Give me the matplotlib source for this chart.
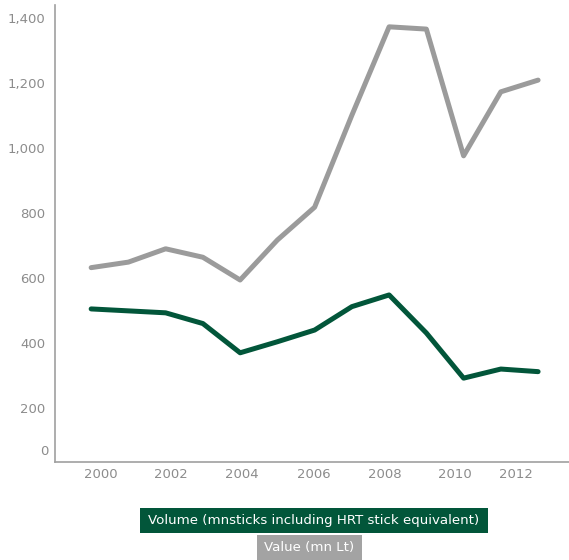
import numpy as np
import matplotlib
matplotlib.use("Agg")
import matplotlib.pyplot as plt
from matplotlib.patches import Rectangle

# yearly series
years = np.arange(2000, 2013)
value_mn_lt = [632, 649, 690, 664, 594, 717, 818, 1101, 1373, 1366, 976, 1173, 1209]
volume_mn_sticks = [505, 499, 493, 460, 370, 404, 440, 512, 548, 431, 292, 320, 312]

year_labels = ["2000", "2002", "2004", "2006", "2008", "2010", "2012"]
year_label_pos = [2000.27, 2002.15, 2004.05, 2005.99, 2007.89, 2009.77, 2011.41]
value_ticks = [200, 400, 600, 800, 1000, 1200, 1400]

GREEN = "#02563a"
GREY = "#9b9b9b"
TICK = "#8c8c8c"

fig = plt.figure(figsize=(5.69, 5.60), dpi=100)
ax = fig.add_axes([0.0967, 0.175, 0.9033, 0.816])

ax.plot(years, value_mn_lt, color=GREY, lw=3.6, solid_joinstyle="round",
        solid_capstyle="round")
ax.plot(years, volume_mn_sticks, color=GREEN, lw=3.6, solid_joinstyle="round",
        solid_capstyle="round")

ax.set_xlim(1999.03, 2012.83)
ax.set_ylim(34, 1440)

ax.set_xticks(year_label_pos)
ax.set_xticklabels(year_labels)
ax.set_yticks(value_ticks)
ax.set_yticklabels([f"{v:,}" for v in value_ticks])
ax.tick_params(length=0, labelsize=9.5, colors=TICK)
ax.tick_params(axis="y", pad=7)
ax.tick_params(axis="x", pad=4)

# zero label sits just above the baseline
ax.text(-0.013, 65, "0", transform=ax.get_yaxis_transform(), ha="right",
        va="center", fontsize=9.5, color=TICK)

for side in ("top", "right"):
    ax.spines[side].set_visible(False)
for side in ("left", "bottom"):
    ax.spines[side].set_color("#a0a0a0")
    ax.spines[side].set_linewidth(1.2)

# legend boxes under the chart
W, H = 569, 560
boxes = [
    (140, 508, 488, 533, GREEN, "Volume (mnsticks including HRT stick equivalent)"),
    (257, 535, 362, 560, "#a3a3a3", "Value (mn Lt)"),
]
for x0, y0, x1, y1, fc, label in boxes:
    fig.add_artist(Rectangle((x0 / W, 1 - y1 / H), (x1 - x0) / W, (y1 - y0) / H,
                             transform=fig.transFigure, facecolor=fc,
                             edgecolor="none"))
    fig.text((x0 + x1) / 2 / W, 1 - (y0 + y1) / 2 / H, label, ha="center",
             va="center", color="white", fontsize=9.6, fontweight="medium")

fig.savefig("out.png", dpi=100)
